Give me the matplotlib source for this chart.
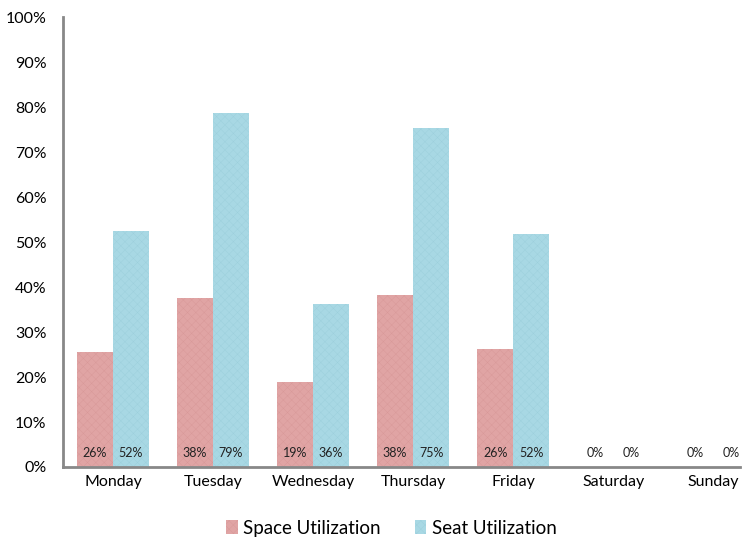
import matplotlib.pyplot as plt
import numpy as np

days = ['Monday', 'Tuesday', 'Wednesday', 'Thursday', 'Friday', 'Saturday', 'Sunday']
space_util = [25.6, 37.6, 18.9, 38.2, 26.2, 0, 0]
seat_util = [52.4, 78.7, 36.2, 75.4, 51.8, 0, 0]

plt.rcParams['font.family'] = ['Lato', 'DejaVu Sans']
plt.rcParams['hatch.linewidth'] = 0.3

fig = plt.figure(figsize=(7.5, 5.38), dpi=100)
ax = fig.add_axes([0.084, 0.132, 0.903, 0.836])

x = np.arange(len(days))
w = 0.36
red = '#E0A4A4'
blue = '#A8D8E4'
b1 = ax.bar(x - w / 2, space_util, w, color=red, label='Space Utilization',
            hatch='xxxx', edgecolor='#D89898', linewidth=0)
b2 = ax.bar(x + w / 2, seat_util, w, color=blue, label='Seat Utilization',
            hatch='xxxx', edgecolor='#9CCFDC', linewidth=0)

for xi, v in zip(x, space_util):
    ax.text(xi - w / 2, 3.2, f"{round(v)}%", ha='center', va='center', fontsize=9, color='#222222')
for xi, v in zip(x, seat_util):
    ax.text(xi + w / 2, 3.2, f"{round(v)}%", ha='center', va='center', fontsize=9, color='#222222')

ax.set_xlim(-0.5, 6.27)
ax.set_ylim(0, 100)
ax.set_yticks(range(0, 101, 10))
ax.set_yticklabels([f"{t}%" for t in range(0, 101, 10)], fontsize=11.5)
ax.set_xticks(x)
ax.set_xticklabels(days, fontsize=11.5)
ax.tick_params(axis='both', length=0, pad=6)
ax.tick_params(axis='y', pad=12)
for s in ['top', 'right']:
    ax.spines[s].set_visible(False)
for s in ['left', 'bottom']:
    ax.spines[s].set_color('#888888')
    ax.spines[s].set_linewidth(2)

ax.legend(loc='upper center', bbox_to_anchor=(0.485, -0.08), ncol=2, frameon=False,
          fontsize=13.5, handlelength=0.6, handleheight=0.8, handletextpad=0.3, columnspacing=1.8)

fig.savefig('out.png', dpi=100)
